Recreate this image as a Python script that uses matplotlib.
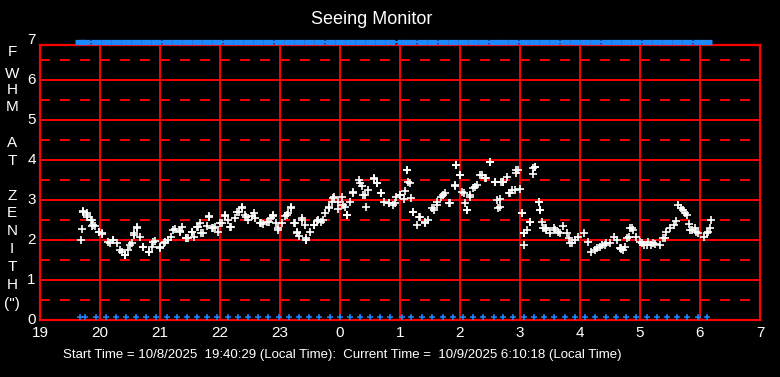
import matplotlib
matplotlib.use("Agg")
import matplotlib.pyplot as plt

plt.rcParams['font.family'] = ['Liberation Sans', 'DejaVu Sans']
plt.rcParams['lines.scale_dashes'] = False

# ---- data (hours since midnight of start day; >24 means next day) ----
seeing_t = [19.68, 19.70, 19.72, 19.78, 19.79, 19.85, 19.86, 19.92, 19.98, 20.03,
            20.14, 20.22, 20.28, 20.36, 20.42, 20.47, 20.53, 20.57, 20.62, 20.67,
            20.72, 20.81, 20.86, 20.92, 21.00, 21.06, 21.14, 21.19, 21.25, 21.33,
            21.37, 21.44, 21.47, 21.53, 21.57, 21.64, 21.69, 21.78, 21.81, 21.86,
            21.92, 21.97, 22.03, 22.08, 22.14, 22.19, 22.25, 22.31, 22.36, 22.42,
            22.47, 22.53, 22.58, 22.67, 22.72, 22.78, 22.85, 22.89, 22.94, 22.97,
            23.03, 23.08, 23.14, 23.18, 23.24, 23.28, 23.31, 23.36, 23.42, 23.44,
            23.50, 23.56, 23.61, 23.69, 23.75, 23.81, 23.86, 23.90, 23.97, 24.03,
            24.08, 24.11, 24.17, 24.22, 24.31, 24.36, 24.42, 24.47, 24.56, 24.61,
            24.68, 24.74, 24.81, 24.89, 24.94, 25.00, 25.06, 25.09, 25.11, 25.14,
            25.19, 25.22, 25.28, 25.33, 25.42, 25.47, 25.56, 25.61, 25.69, 25.75,
            25.83, 25.91, 25.94, 26.00, 26.03, 26.08, 26.11, 26.17, 26.22, 26.28,
            26.33, 26.42, 26.50, 26.58, 26.64, 26.67, 26.72, 26.81, 26.86, 26.92,
            26.94, 27.00, 27.03, 27.06, 27.07, 27.11, 27.17, 27.22, 27.25, 27.31,
            27.34, 27.39, 27.44, 27.50, 27.56, 27.64, 27.72, 27.78, 27.83, 27.92,
            27.97, 28.06, 28.14, 28.19, 28.25, 28.33, 28.42, 28.50, 28.56, 28.61,
            28.67, 28.69, 28.72, 28.75, 28.79, 28.83, 28.89, 28.94, 29.00, 29.06,
            29.14, 29.19, 29.25, 29.33, 29.39, 29.44, 29.50, 29.56, 29.60, 29.64,
            29.69, 29.75, 29.81, 29.86, 29.92, 29.97, 30.06, 30.11, 30.16, 30.18]
seeing_v = [2.00, 2.27, 2.73, 2.67, 2.58, 2.50, 2.35, 2.36, 2.21, 2.14,
            1.96, 2.00, 1.92, 1.71, 1.63, 1.75, 1.92, 2.13, 2.31, 2.08,
            1.83, 1.71, 1.83, 1.98, 1.83, 1.92, 2.00, 2.08, 2.27, 2.22,
            2.33, 2.04, 2.04, 2.21, 2.08, 2.33, 2.17, 2.36, 2.58, 2.29,
            2.33, 2.19, 2.42, 2.61, 2.50, 2.33, 2.54, 2.71, 2.79, 2.63,
            2.50, 2.61, 2.54, 2.42, 2.39, 2.46, 2.54, 2.63, 2.42, 2.29,
            2.42, 2.61, 2.67, 2.81, 2.42, 2.21, 2.11, 2.50, 2.38, 2.00,
            2.21, 2.38, 2.48, 2.46, 2.67, 2.83, 2.96, 3.07, 2.78, 3.07,
            2.83, 2.63, 2.96, 3.17, 3.50, 3.35, 3.13, 3.25, 3.54, 3.42,
            3.17, 2.96, 2.92, 2.88, 3.08, 3.13, 3.02, 3.23, 3.75, 3.46,
            3.04, 2.71, 2.38, 2.58, 2.42, 2.50, 2.75, 2.88, 3.08, 3.17,
            2.92, 3.35, 3.88, 3.63, 3.21, 2.92, 2.75, 3.08, 3.29, 3.38,
            3.63, 3.54, 3.96, 3.46, 2.79, 3.02, 3.46, 3.17, 3.25, 3.25,
            3.75, 3.27, 2.67, 2.17, 1.88, 2.25, 2.46, 3.65, 3.82, 2.96,
            2.75, 2.29, 2.25, 2.17, 2.29, 2.21, 2.35, 2.17, 1.92, 2.00,
            2.07, 2.18, 1.96, 1.71, 1.75, 1.83, 1.88, 1.92, 2.07, 2.00,
            1.79, 1.79, 1.75, 1.83, 2.04, 2.29, 2.25, 2.08, 1.96, 1.88,
            1.96, 1.88, 1.89, 1.88, 2.04, 2.21, 2.29, 2.38, 2.48, 2.88,
            2.79, 2.67, 2.39, 2.25, 2.29, 2.17, 2.08, 2.17, 2.29, 2.50]

# second reading pass (more of the same measurements)
seeing_t2 = [19.72, 19.78, 19.86, 19.89, 19.99, 20.04, 20.17, 20.22, 20.33, 20.42,
             20.50, 20.56, 20.62, 20.72, 20.81, 20.89, 21.00, 21.08, 21.22, 21.33,
             21.44, 21.53, 21.61, 21.67, 21.72, 21.81, 21.89, 22.00, 22.08, 22.17,
             22.28, 22.36, 22.44, 22.56, 22.69, 22.81, 22.89, 22.97, 23.11, 23.19,
             23.25, 23.28, 23.44, 23.36, 23.44, 23.56, 23.64, 23.72, 23.81, 23.89,
             23.97, 24.05, 24.11, 24.22, 24.33, 24.39, 24.44, 24.56, 24.61, 24.69,
             24.81, 24.92, 25.00, 25.11, 25.17, 25.22, 25.31, 25.42, 25.53, 25.61,
             25.72, 25.81, 25.92, 25.94, 26.00, 26.06, 26.11, 26.17, 26.25, 26.36,
             26.44, 26.50, 26.58, 26.61, 26.67, 26.72, 26.83, 26.94, 27.03, 27.06,
             27.17, 27.22, 27.31, 27.44, 26.69, 26.78, 26.97, 27.25, 27.33, 27.36,
             27.42, 27.58, 27.67, 27.81, 27.86, 28.28, 28.36, 28.44, 28.69, 28.81,
             28.86, 29.03, 29.11, 29.22, 29.42, 29.72, 29.78, 29.83, 29.94, 30.14]
seeing_v2 = [2.71, 2.63, 2.50, 2.38, 2.21, 2.17, 1.92, 2.00, 1.75, 1.63,
             1.88, 2.17, 2.33, 1.83, 1.71, 1.96, 1.79, 1.96, 2.25, 2.21,
             2.04, 2.21, 2.33, 2.42, 2.17, 2.60, 2.29, 2.42, 2.63, 2.33,
             2.71, 2.82, 2.58, 2.67, 2.42, 2.46, 2.60, 2.25, 2.63, 2.83,
             2.42, 2.17, 2.00, 2.54, 2.04, 2.38, 2.50, 2.50, 2.79, 3.04,
             2.96, 2.88, 2.63, 3.21, 3.42, 3.13, 2.83, 3.52, 3.42, 3.17,
             2.92, 2.92, 3.13, 3.75, 3.42, 2.71, 2.58, 2.46, 2.79, 2.96,
             3.13, 2.92, 3.38, 3.88, 3.63, 3.17, 2.75, 3.13, 3.33, 3.63,
             3.54, 3.96, 3.46, 3.00, 2.83, 3.46, 3.17, 3.67, 2.67, 2.17,
             2.46, 3.79, 2.96, 2.29, 3.46, 3.58, 3.75, 3.83, 2.75, 2.46,
             2.29, 2.25, 2.17, 2.04, 1.92, 1.79, 1.88, 1.92, 1.77, 2.08,
             2.29, 1.92, 1.88, 1.92, 2.04, 2.75, 2.63, 2.25, 2.21, 2.21]

sample_t = [19.67, 19.75, 19.93, 20.10, 20.27, 20.43, 20.60, 20.77, 20.93, 21.11,
            21.28, 21.45, 21.61, 21.78, 21.95, 22.13, 22.30, 22.47, 22.63, 22.80,
            22.98, 23.15, 23.32, 23.48, 23.65, 23.83, 24.00, 24.17, 24.33, 24.50,
            24.67, 24.83, 25.03, 25.19, 25.36, 25.53, 25.71, 25.88, 26.05, 26.21,
            26.39, 26.56, 26.72, 26.89, 27.07, 27.23, 27.40, 27.57, 27.75, 27.91,
            28.08, 28.25, 28.43, 28.60, 28.77, 28.93, 29.11, 29.28, 29.45, 29.61,
            29.79, 29.96, 30.12]
top_level = 6.95
bottom_level = 0.07

x_ticks = [19, 20, 21, 22, 23, 24, 25, 26, 27, 28, 29, 30, 31]
x_labels = ['19', '20', '21', '22', '23', '0', '1', '2', '3', '4', '5', '6', '7']
y_ticks = [0, 1, 2, 3, 4, 5, 6, 7]
ylabel_chars = ['F', 'W', 'H', 'M', 'A', 'T', 'Z', 'E', 'N', 'I', 'T', 'H', '(")']
ylabel_pix = [52, 74, 90, 107, 143, 161, 196, 213, 231, 249, 267, 285, 304]

title = 'Seeing Monitor'
footer = ('Start Time = 10/8/2025  19:40:29 (Local Time):  '
          'Current Time =  10/9/2025 6:10:18 (Local Time)')

# ---- figure ----
W, H = 780, 377
fig = plt.figure(figsize=(W / 100, H / 100), dpi=100, facecolor='black')
ax = fig.add_axes([40 / W, 57 / H, 720 / W, 275 / H], facecolor='black')
ax.set_xlim(19, 31)
ax.set_ylim(0, 6.875)

red = '#ff0000'
for yv in [1, 2, 3, 4, 5, 6]:
    ax.axhline(yv, color=red, lw=1.4, zorder=1)
for yv in [0.5, 1.5, 2.5, 3.5, 4.5, 5.5, 6.5]:
    ax.axhline(yv, color=red, lw=1.4, ls=(0, (7.2, 7.2)), zorder=1)
for xv in x_ticks[1:-1]:
    ax.axvline(xv, color=red, lw=1.4, zorder=1)
for s in ax.spines.values():
    s.set_color(red)
    s.set_linewidth(1.6)

blue = '#1e88ff'
ax.plot([sample_t[0], sample_t[-1]], [top_level, top_level], color=blue, lw=1.5,
        clip_on=False, zorder=3)
ax.plot(sample_t, [top_level] * len(sample_t), ls='none', marker='_', ms=6.5,
        mew=3.8, color=blue, clip_on=False, zorder=3)
ax.plot(sample_t, [bottom_level] * len(sample_t), ls='none', marker='+', ms=4.6,
        mew=1.1, color=blue, clip_on=False, zorder=3)

all_t = seeing_t + seeing_t2
all_v = seeing_v + seeing_v2
ax.plot(all_t, all_v, ls='none', marker='+', ms=5.5, mew=1.2,
        color='white', zorder=4)

ax.set_xticks(x_ticks)
ax.set_xticklabels(x_labels)
ax.set_yticks([])
ax.tick_params(axis='x', length=0, pad=4, colors='white', labelsize=11)
for yt in y_ticks:
    ax.text(-0.006, yt, str(yt), transform=ax.get_yaxis_transform(),
            ha='right', va='center', color='white', fontsize=11, clip_on=False)

for ch, py in zip(ylabel_chars, ylabel_pix):
    fig.text(12 / W, 1 - py / H, ch, ha='center', va='center', color='white',
             fontsize=11)

fig.text(372 / W, 1 - 20 / H, title, ha='center', va='center', color='white',
         fontsize=13)
fig.text(342 / W, 1 - 355 / H, footer, ha='center', va='center', color='white',
         fontsize=9.5)

fig.savefig('out.png', dpi=100, facecolor='black')
